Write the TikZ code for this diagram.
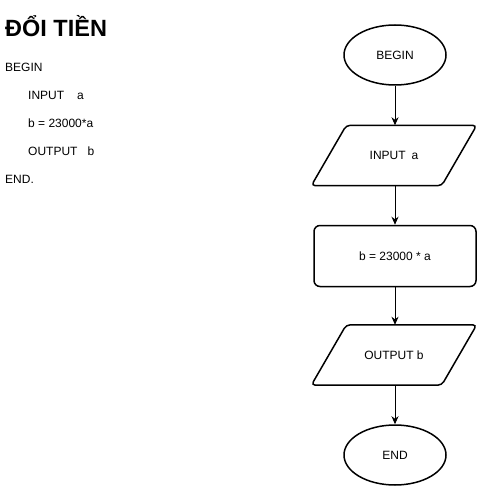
\documentclass[tikz,border=0pt]{standalone}
\usepackage{fontspec}
\setmainfont{Liberation Sans}
\usetikzlibrary{shapes.geometric,arrows.meta}

\tikzset{
	police/.style={font=\fontsize{12}{14}\selectfont},
	bord/.style={line width=1.5pt,rounded corners=4pt},
	terminal/.style={draw,ellipse,line width=1.5pt,minimum width=102pt,minimum height=60pt,inner sep=0pt,police},
	entree/.style={rectangle,minimum width=165pt,minimum height=60pt,inner sep=0pt,police},
	calcul/.style={draw,rectangle,rounded corners=6pt,line width=1.5pt,minimum width=162pt,minimum height=61pt,inner sep=0pt,police},
	fleche/.style={-{Stealth[length=8pt,width=7pt,inset=2.5pt]},line width=1pt},
	algo/.style={anchor=base west,inner sep=0pt,police}
}

\begin{document}
\begin{tikzpicture}[x=1pt,y=-1pt]
					\useasboundingbox[fill=white] (0,0) rectangle (481,486);
%					Titre et algorithme :
					\draw (5,37) node[anchor=base west,inner sep=0pt,font=\fontsize{23.5}{28}\selectfont\bfseries] (titre) {ĐỔI TIỀN};
					\draw (5,71.5) node[algo] (l1) {BEGIN};
					\draw (28,99.5) node[algo] (l2) {INPUT\hspace{13pt}a};
					\draw (28,127.5) node[algo] (l3) {b = 23000*a};
					\draw (28,155.5) node[algo] (l4) {OUTPUT\hspace{10pt}b};
					\draw (5,183.5) node[algo] (l5) {END.};
%					Tracé de l'organigramme :
					\draw (395,55) node[terminal] (debut) {BEGIN};
					\draw (394,155.5) node[entree] (lire) {INPUT\hspace{6pt}a};
					\draw[bord] ([xshift=35pt]lire.north west) -- (lire.north east) -- ([xshift=-35pt]lire.south east) -- (lire.south west) -- cycle;
					\draw (395,256) node[calcul] (calc) {b = 23000 * a};
					\draw (394,355) node[entree] (ecrire) {OUTPUT b};
					\draw[bord] ([xshift=35pt]ecrire.north west) -- (ecrire.north east) -- ([xshift=-35pt]ecrire.south east) -- (ecrire.south west) -- cycle;
					\draw (395,455) node[terminal] (fin) {END};
%					Flèches :
					\draw[fleche] (debut) -- (debut |- lire.north);
					\draw[fleche] (debut |- lire.south) -- (calc);
					\draw[fleche] (calc) -- (calc |- ecrire.north);
					\draw[fleche] (calc |- ecrire.south) -- (fin);
				\end{tikzpicture}
\end{document}
